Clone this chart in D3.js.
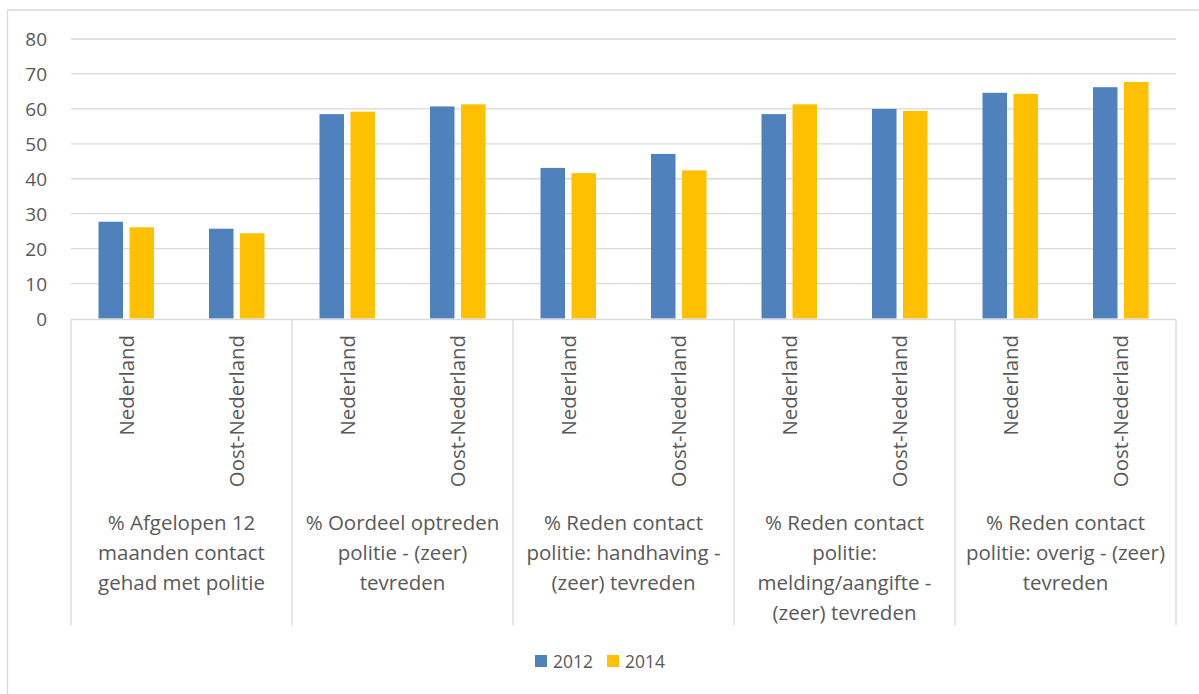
<!DOCTYPE html>
<html>
<head>
<meta charset="utf-8">
<script src="https://cdn.jsdelivr.net/npm/d3@7"></script>
<style>
  body { margin: 0; background: #fff; }
  text { font-family: "Open Sans", "Liberation Sans", sans-serif; fill: #595959; }
</style>
</head>
<body>
<svg id="chart" width="1199" height="694"></svg>
<script>
// groups (outer category level) and regions (inner level)
var groups = [
  ["% Afgelopen 12", "maanden contact", "gehad met politie"],
  ["% Oordeel optreden", "politie - (zeer)", "tevreden"],
  ["% Reden contact", "politie: handhaving -", "(zeer) tevreden"],
  ["% Reden contact", "politie:", "melding/aangifte -", "(zeer) tevreden"],
  ["% Reden contact", "politie: overig - (zeer)", "tevreden"]
];
var regions = ["Nederland", "Oost-Nederland"];
var years = ["2012", "2014"];
var colors = ["#4F81BD", "#FFC000"];

// values per bar, in order group/region
var values2012 = [27.7, 25.7, 58.5, 60.7, 43.1, 47.1, 58.5, 60.0, 64.6, 66.2];
var values2014 = [26.1, 24.4, 59.2, 61.3, 41.6, 42.4, 61.3, 59.4, 64.3, 67.7];
var yTicks = [0, 10, 20, 30, 40, 50, 60, 70, 80];

var svg = d3.select("#chart");

// outer frame (only top and left edges are in view)
svg.append("path")
  .attr("d", "M7.5,694 V10 H1199")
  .attr("fill", "none").attr("stroke", "#d9d9d9").attr("stroke-width", 1.3);

var pLeft = 71, pRight = 1176, pTop = 39, pBottom = 318.5;

var cats = [];
groups.forEach(function(g, gi){
  regions.forEach(function(r){ cats.push(gi + "|" + r); });
});

var x = d3.scaleBand().domain(cats).range([pLeft, pRight]);
var y = d3.scaleLinear().domain([0, 80]).range([pBottom, pTop]);

// gridlines
svg.append("g").selectAll("line")
  .data(yTicks.slice(1))
  .enter().append("line")
  .attr("x1", pLeft).attr("x2", pRight)
  .attr("y1", d => y(d)).attr("y2", d => y(d))
  .attr("stroke", "#d9d9d9").attr("stroke-width", 1.3);

// y labels
svg.append("g").selectAll("text")
  .data(yTicks)
  .enter().append("text")
  .attr("x", 47).attr("y", d => y(d) + 7)
  .attr("text-anchor", "end")
  .attr("font-size", 19)
  .text(d => d);

// bars
var barW = 24.5, gap = 6.5;
var series = [values2012, values2014];
series.forEach(function(vals, si){
  svg.append("g").selectAll("rect")
    .data(vals)
    .enter().append("rect")
    .attr("x", (d, i) => x(cats[i]) + x.bandwidth()/2 - barW - gap/2 + si*(barW + gap))
    .attr("y", d => y(d))
    .attr("width", barW)
    .attr("height", d => pBottom - y(d))
    .attr("fill", colors[si]);
});

// x axis baseline
svg.append("line")
  .attr("x1", pLeft).attr("x2", pRight)
  .attr("y1", pBottom + 1).attr("y2", pBottom + 1)
  .attr("stroke", "#d9d9d9").attr("stroke-width", 1.3);

// group separators
var groupW = (pRight - pLeft) / groups.length;
svg.append("g").selectAll("line")
  .data(d3.range(groups.length + 1))
  .enter().append("line")
  .attr("x1", d => pLeft + d*groupW).attr("x2", d => pLeft + d*groupW)
  .attr("y1", pBottom + 1).attr("y2", 625.5)
  .attr("stroke", "#d9d9d9").attr("stroke-width", 1.3);

// region labels (rotated)
svg.append("g").selectAll("text")
  .data(cats)
  .enter().append("text")
  .attr("transform", d => "translate(" + (x(d) + x.bandwidth()/2 + 7.5) + ",335) rotate(-90)")
  .attr("text-anchor", "end")
  .attr("font-size", 20.4)
  .text(d => d.split("|")[1]);

// group labels
groups.forEach(function(lines, gi){
  var t = svg.append("text")
    .attr("text-anchor", "middle")
    .attr("font-size", 20.5);
  lines.forEach(function(line, li){
    t.append("tspan")
      .attr("x", pLeft + gi*groupW + groupW/2)
      .attr("y", 530 + li*30)
      .text(line);
  });
});

// legend
var legend = svg.append("g");
years.forEach(function(yr, i){
  var lx = 535 + i*72;
  legend.append("rect")
    .attr("x", lx).attr("y", 655)
    .attr("width", 12).attr("height", 12)
    .attr("fill", colors[i]);
  legend.append("text")
    .attr("x", lx + 18).attr("y", 668)
    .attr("font-size", 17.5)
    .text(yr);
});
</script>
</body>
</html>
